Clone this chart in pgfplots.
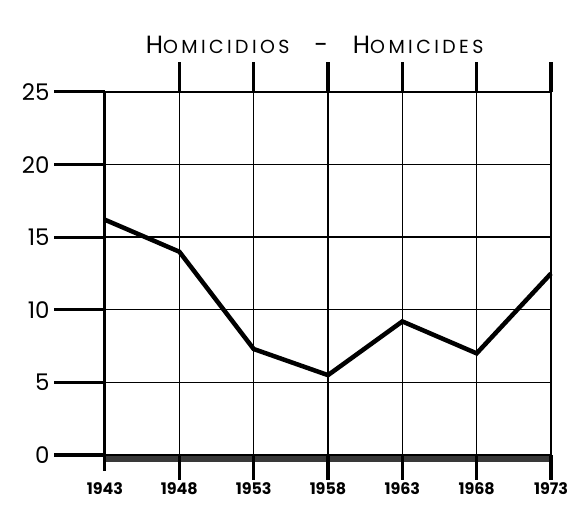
\documentclass[border=0pt]{standalone}
\usepackage{pgfplots}
\pgfplotsset{compat=1.18}
\usepackage{fontspec}
\setmainfont{Poppins}
\newfontfamily\titlefont{Poppins}[LetterSpace=18]
\usetikzlibrary{calc}
\begin{document}
\begin{tikzpicture}
\begin{axis}[name=ax, scale only axis, width=446bp, height=363bp,
  xmin=1943, xmax=1973, ymin=0, ymax=25, clip=false,
  axis line style={draw=none}, major tick length=0pt,
  xtick={1943,1948,1953,1958,1963,1968,1973},
  xticklabels={1943,1948,1953,1958,1963,1968,1973},
  ytick={0,5,10,15,20,25}, yticklabels={0,5,10,15,20,25},
  yticklabel style={anchor=east, xshift=-52bp, font=\fontsize{23}{23}\selectfont},
  xticklabel style={yshift=-24bp, font=\bfseries\fontsize{16}{16}\selectfont},
  grid=major, grid style={black, line width=1.4bp}]
% decorations
\fill[gray!45!black] (axis cs:1943,0) rectangle (axis cs:1973,-0.5);
\draw[line width=1.8bp] (axis cs:1943,0) -- (axis cs:1973,0);
\draw[line width=3bp] (axis cs:1943,25) -- (axis cs:1943,-1.1);
\pgfplotsinvokeforeach{1948,1953,1958,1963,1968,1973}{
  \draw[line width=3.2bp] (axis cs:#1,25) -- (axis cs:#1,27.1);
  \draw[line width=3.2bp] (axis cs:#1,0) -- (axis cs:#1,-1.7);
}
\pgfplotsinvokeforeach{0,5,10,15,20,25}{
  \draw[line width=3bp] (axis cs:1939.6,#1) -- (axis cs:1943,#1);
}
\node[font=\titlefont] at (rel axis cs:0.47,1.13)
  {\fontsize{25}{25}\selectfont H{\fontsize{19}{19}\selectfont OMICIDIOS}\quad -\quad H{\fontsize{19}{19}\selectfont OMICIDES}};
% data
\addplot[black, line width=4.5bp] coordinates {
 (1943,16.2) (1948,14.0) (1953,7.3) (1958,5.5) (1963,9.2) (1968,7.0) (1973,12.5)};
\end{axis}
\path ($(ax.south west)+(-105bp,-64bp)$) rectangle ($(ax.north east)+(36bp,92bp)$);
\end{tikzpicture}
\end{document}
